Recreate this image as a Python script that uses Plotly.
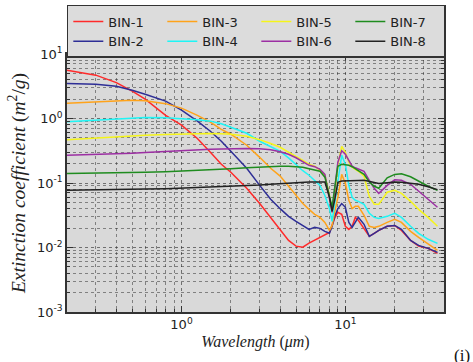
import plotly.graph_objects as go

# Wavelength grid (micrometres)
wavelength = [0.2, 0.3, 0.4, 0.5, 0.6, 0.8, 1.0, 1.25, 1.5, 1.75, 2.0,
              2.5, 3.0, 3.5, 4.0, 4.5, 5.0, 5.5, 6.0, 6.5, 7.0,
              7.5, 8.0, 8.3, 8.6, 9.0, 9.5, 10.0, 10.5, 11.0, 11.5,
              12.0, 13.0, 14.0, 15.0, 16.0, 18.0, 20.0, 22.0, 25.0, 28.0,
              32.0, 36.5]

bin1 = [5.6, 4.7, 3.6, 2.65, 2.0, 1.12, 0.79, 0.49, 0.30, 0.195, 0.147,
        0.083, 0.048, 0.0293, 0.0191, 0.0129, 0.0105, 0.0101, 0.0117, 0.0130, 0.0144,
        0.0154, 0.0171, 0.022, 0.0283, 0.0351, 0.0327, 0.0213, 0.0191, 0.0213, 0.0293,
        0.0264, 0.0198, 0.0149, 0.0166, 0.0184, 0.0213, 0.022, 0.0184, 0.0129, 0.0105,
        0.0097, 0.0081]
bin2 = [3.5, 3.41, 3.17, 2.75, 2.38, 1.86, 1.35, 0.91, 0.635, 0.444, 0.31,
        0.169, 0.092, 0.056, 0.040, 0.0304, 0.0254, 0.022, 0.0191, 0.0205, 0.0198,
        0.0178, 0.0166, 0.0213, 0.0304, 0.040, 0.048, 0.042, 0.0245, 0.0205, 0.0245,
        0.0293, 0.0229, 0.0149, 0.0166, 0.0184, 0.0213, 0.022, 0.0191, 0.0129, 0.0108,
        0.0097, 0.0084]
bin3 = [1.73, 1.82, 1.89, 1.92, 1.89, 1.70, 1.45, 1.12, 0.88, 0.68, 0.57,
        0.385, 0.25, 0.169, 0.128, 0.089, 0.067, 0.048, 0.039, 0.0327, 0.0293,
        0.0245, 0.0184, 0.022, 0.0351, 0.060, 0.136, 0.099, 0.054, 0.040, 0.0435,
        0.0435, 0.0316, 0.0213, 0.0205, 0.0213, 0.0245, 0.0273, 0.0245, 0.0178, 0.0144,
        0.0112, 0.0090]
bin4 = [0.89, 0.94, 0.975, 1.02, 1.04, 1.03, 1.0, 0.96, 0.91, 0.83, 0.73,
        0.59, 0.444, 0.37, 0.31, 0.245, 0.19, 0.155, 0.132, 0.108, 0.092,
        0.064, 0.040, 0.0254, 0.0467, 0.110, 0.27, 0.195, 0.092, 0.060, 0.054,
        0.052, 0.0467, 0.034, 0.0293, 0.0283, 0.0304, 0.034, 0.0293, 0.0213, 0.0166,
        0.0134, 0.0116]
bin5 = [0.47, 0.50, 0.52, 0.54, 0.55, 0.565, 0.577, 0.585, 0.585, 0.58, 0.57,
        0.53, 0.47, 0.41, 0.358, 0.30, 0.26, 0.225, 0.195, 0.182, 0.157,
        0.132, 0.064, 0.0351, 0.064, 0.188, 0.37, 0.30, 0.21, 0.175, 0.163,
        0.152, 0.127, 0.062, 0.0467, 0.0467, 0.072, 0.077, 0.069, 0.052, 0.039,
        0.0293, 0.0213]
bin6 = [0.27, 0.276, 0.281, 0.29, 0.297, 0.31, 0.32, 0.33, 0.333, 0.337, 0.34,
        0.342, 0.34, 0.328, 0.305, 0.279, 0.246, 0.213, 0.188, 0.179, 0.163,
        0.136, 0.062, 0.0351, 0.077, 0.21, 0.316, 0.279, 0.225, 0.182, 0.172,
        0.166, 0.152, 0.110, 0.083, 0.069, 0.092, 0.112, 0.110, 0.0955, 0.074,
        0.056, 0.042]
bin7 = [0.14, 0.1415, 0.143, 0.145, 0.1466, 0.150, 0.153, 0.157, 0.160, 0.163, 0.166,
        0.172, 0.177, 0.18, 0.182, 0.182, 0.179, 0.175, 0.166, 0.157, 0.152,
        0.123, 0.062, 0.042, 0.083, 0.182, 0.195, 0.193, 0.188, 0.179, 0.166,
        0.155, 0.136, 0.104, 0.089, 0.083, 0.12, 0.136, 0.139, 0.125, 0.106,
        0.089, 0.077]
bin8 = [0.077, 0.0776, 0.0784, 0.0793, 0.0804, 0.0818, 0.0836, 0.0848, 0.0858, 0.0867, 0.088,
        0.0905, 0.0928, 0.0955, 0.098, 0.1007, 0.1026, 0.1037, 0.1037, 0.1037, 0.1037,
        0.1034, 0.060, 0.0364, 0.054, 0.1026, 0.107, 0.108, 0.108, 0.1087, 0.109,
        0.1096, 0.110, 0.106, 0.1007, 0.098, 0.1007, 0.1034, 0.1026, 0.099, 0.0955,
        0.0873, 0.079]

series_names = ["BIN-1", "BIN-2", "BIN-3", "BIN-4", "BIN-5", "BIN-6", "BIN-7", "BIN-8"]
series_values = [bin1, bin2, bin3, bin4, bin5, bin6, bin7, bin8]
series_colors = ["#ff2a2a", "#2e2e96", "#ffa31a", "#1ff5f5", "#f5f51a", "#9c2fa3", "#1f8c1f", "#222222"]
legend_ranks = [1, 5, 2, 6, 3, 7, 4, 8]

x_major_ticks = [1, 10]
x_major_text = ["10<sup>0</sup>", "10<sup>1</sup>"]
y_major_ticks = [0.001, 0.01, 0.1, 1, 10]
y_major_text = ["10<sup>-3</sup>", "10<sup>-2</sup>", "10<sup>-1</sup>", "10<sup>0</sup>", "10<sup>1</sup>"]

fig = go.Figure()
for name, vals, color, rank in zip(series_names, series_values, series_colors, legend_ranks):
    fig.add_trace(go.Scatter(x=wavelength, y=vals, mode="lines", name=name,
                             line=dict(color=color, width=1.5), legendrank=rank))

minor_x = [d * 10.0 ** e for e in range(-1, 2) for d in range(2, 10)]
minor_y = [d * 10.0 ** e for e in range(-3, 1) for d in range(2, 10)]

grid_major = "rgba(40,40,40,0.6)"
grid_minor = "rgba(40,40,40,0.5)"

common = dict(type="log", showline=True, linecolor="#333333", linewidth=1.5,
              mirror="allticks", ticks="inside", ticklen=6, tickwidth=1, tickcolor="#333333",
              showgrid=True, gridcolor=grid_major, griddash="dot", gridwidth=1,
              tickfont=dict(family="DejaVu Sans", size=13, color="#222222"),
              zeroline=False, tickmode="array", automargin=False)

fig.update_xaxes(**common, range=[-0.69897, 1.60206],
                 tickvals=x_major_ticks, ticktext=x_major_text,
                 minor=dict(tickmode="array", tickvals=minor_x, ticks="inside", ticklen=3,
                            tickcolor="#333333", showgrid=True, gridcolor=grid_minor,
                            griddash="dot", gridwidth=1),
                 title=dict(text="<i>Wavelength</i> (<i>μm</i>)", standoff=4,
                            font=dict(family="Liberation Serif", size=16, color="#222222")))
fig.update_yaxes(**common, range=[-3, 1],
                 tickvals=y_major_ticks, ticktext=y_major_text,
                 minor=dict(tickmode="array", tickvals=minor_y, ticks="inside", ticklen=3,
                            tickcolor="#333333", showgrid=True, gridcolor=grid_minor,
                            griddash="dot", gridwidth=1),
                 title=dict(text="<i>Extinction coefficient</i> (<i>m</i><sup>2</sup>/<i>g</i>)",
                            standoff=6,
                            font=dict(family="Liberation Serif", size=19.5, color="#222222")))

fig.update_layout(
    template="none",
    width=473, height=362,
    margin=dict(l=67, r=29, t=54, b=50, autoexpand=False),
    paper_bgcolor="white", plot_bgcolor="#d9d9d9",
    showlegend=True,
    legend=dict(orientation="h", x=-0.0005, xanchor="left", y=1.19, yanchor="top",
                bgcolor="#dcdcdc", bordercolor="#333333", borderwidth=1.5,
                entrywidth=49, itemwidth=30,
                font=dict(family="DejaVu Sans", size=13, color="#222222")),
    annotations=[dict(text="(i)", xref="paper", yref="paper", x=1.048, y=-0.125,
                      xanchor="center", yanchor="top", showarrow=False,
                      font=dict(family="Liberation Serif", size=17, color="#111111"))],
)

fig.write_html("out.html", config={"displayModeBar": False},
               post_script="document.body.style.margin='0px';")
